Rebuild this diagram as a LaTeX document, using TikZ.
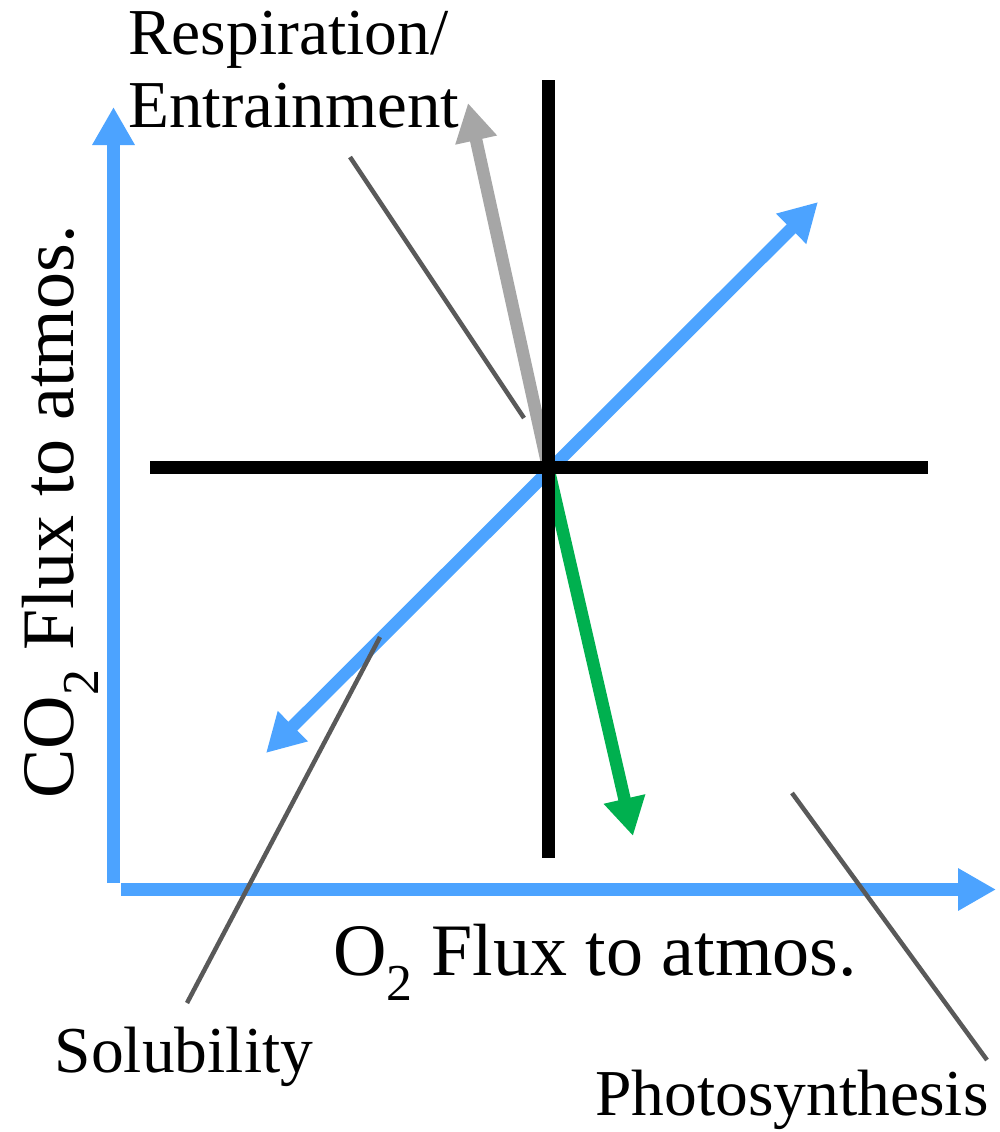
\documentclass[tikz,border=0pt]{standalone}
\usepackage{fontspec}
\setmainfont{Liberation Serif}
\usetikzlibrary{arrows.meta}
\definecolor{AxisClr}{rgb}{0.30,0.64,1}
\definecolor{RespClr}{rgb}{0.65,0.65,0.65}
\definecolor{PhotoClr}{rgb}{0,0.69,0.31}
\definecolor{LeaderClr}{rgb}{0.35,0.35,0.35}

\begin{document}
\begin{tikzpicture}[x=1pt,y=-1pt,
  >={Triangle[length=38pt,width=40pt]},
  flux/.style={line width=12.5pt},
  cross/.style={line width=13pt,color=black},
  leader/.style={line width=4.5pt,color=LeaderClr},
  lbl/.style={inner sep=0pt,anchor=base,font=\fontsize{65.5}{70}\selectfont},
  axlbl/.style={inner sep=0pt,anchor=base,font=\fontsize{74}{80}\selectfont}]
\useasboundingbox (0,0) rectangle (999,1132);

% points
\coordinate (O) at (548,467);
\coordinate (Ytop) at (113.5,107);
\coordinate (Ybot) at (113.5,883);
\coordinate (Xleft) at (121,889.5);
\coordinate (Xright) at (996,889.5);
\coordinate (Vtop) at (548,80);
\coordinate (Vbot) at (548,858);
\coordinate (Hleft) at (150,467);
\coordinate (Hright) at (928,467);
\coordinate (SolA) at (266,753);
\coordinate (SolB) at (818,202);
\coordinate (RespTip) at (468,103);
\coordinate (PhotoTip) at (633,836);

% axes
\draw[flux,AxisClr,->] (Ybot) -- (Ytop);
\draw[flux,AxisClr,->] (Xleft) -- (Xright);

% fluxes
\draw[flux,RespClr,->] (O) -- (RespTip);
\draw[flux,PhotoClr,->] (O) -- (PhotoTip);
\draw[flux,AxisClr,<->] (SolA) -- (SolB);

% cross
\draw[cross] (Vtop) -- (Vbot);
\draw[cross] (Hleft) -- (Hright);

% labels
\node[lbl,anchor=base west] (resp) at (128,55) {Respiration/};
\node[lbl,anchor=base west,font=\fontsize{67}{70}\selectfont] (entr) at (128,127) {Entrainment};
\node[lbl] (sol) at (184,1072) {Solubility};
\node[lbl] (photo) at (792,1115) {Photosynthesis};
\node[axlbl] (xlbl) at (595,975) {O\textsubscript{2} Flux to atmos.};
\node[axlbl,rotate=90] (ylbl) at (73,512) {CO\textsubscript{2} Flux to atmos.};

% leaders
\coordinate (RespA) at (350,157);
\coordinate (RespB) at (524,418);
\coordinate (SolC) at (380,637);
\coordinate (SolD) at (187,1003);
\coordinate (PhotoA) at (792,793);
\coordinate (PhotoB) at (987,1060);
\draw[leader] (RespA) -- (RespB);
\draw[leader] (SolC) -- (SolD);
\draw[leader] (PhotoA) -- (PhotoB);

\end{tikzpicture}
\end{document}
